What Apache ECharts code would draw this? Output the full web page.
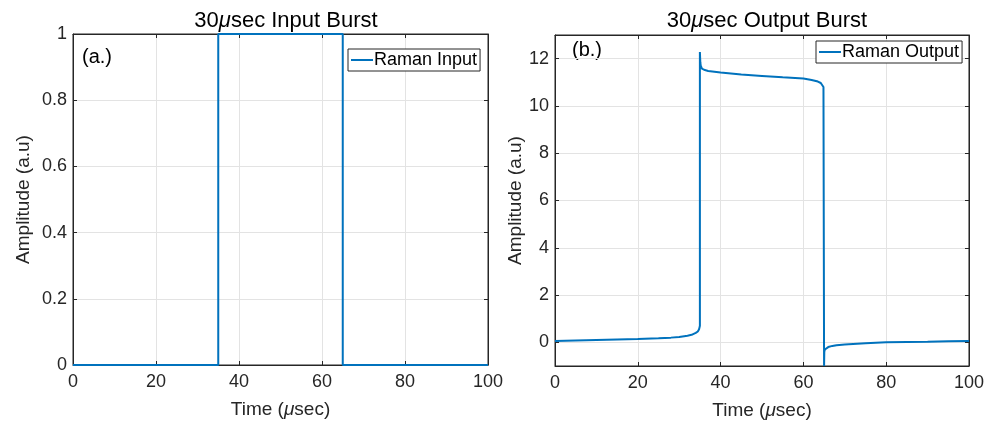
<!DOCTYPE html>
<html>
<head>
<meta charset="utf-8">
<script src="https://cdn.jsdelivr.net/npm/echarts@6/dist/echarts.min.js"></script>
<style>
  html, body { margin: 0; padding: 0; background: #fff; }
  #chart { width: 987px; height: 425px; }
</style>
</head>
<body>
<div id="chart"></div>
<script>
// input burst (square pulse)
const inX = [0, 35, 35, 65, 65, 100];
const inY = [0, 0, 1, 1, 0, 0];

// output burst
const outX = [0, 5, 10, 15, 20, 25, 28, 30, 32, 33, 34, 34.5, 34.8, 35,
  35, 35.1, 35.2, 35.5, 36, 37, 40, 45, 50, 55, 60, 62, 63.5, 64.2, 64.6, 64.85,
  65, 65.05, 65.2, 65.5, 66, 67, 68, 70, 75, 80, 85, 90, 95, 100];
const outY = [0.06, 0.08, 0.1, 0.12, 0.14, 0.17, 0.2, 0.23, 0.28, 0.32, 0.4, 0.46, 0.55, 0.7,
  12.28, 11.85, 11.7, 11.58, 11.53, 11.48, 11.41, 11.33, 11.27, 11.21, 11.16, 11.1, 11.03, 10.97, 10.9, 10.8,
  -1, -0.4, -0.3, -0.25, -0.2, -0.15, -0.12, -0.09, -0.04, 0, 0.02, 0.03, 0.05, 0.06];

const xTicks = [0, 100, 20];
const lineColor = '#0072BD';
const ink = '#262626';
const font = "'Liberation Sans', Arial, sans-serif";

const mu = { mu: { fontStyle: 'italic', fontFamily: font, fontSize: 19 } };

function pairs(xs, ys) {
  return xs.map((x, i) => [x, ys[i]]);
}

function xAxes(gi) {
  const base = {
    type: 'value', gridIndex: gi, min: xTicks[0], max: xTicks[1], interval: xTicks[2],
    axisLine: { show: true, onZero: false, lineStyle: { color: ink, width: 1 } },
    axisTick: { show: true, inside: true, length: 4, lineStyle: { color: ink } }
  };
  return [
    Object.assign({}, base, {
      position: 'bottom',
      axisLabel: { color: ink, fontSize: 18, fontFamily: font, margin: 8 },
      splitLine: { show: true, lineStyle: { color: '#e3e3e3' } },
      name: 'Time ({mu|μ}sec)', nameLocation: 'middle', nameGap: 35,
      nameTextStyle: { color: ink, fontSize: 19, fontFamily: font, rich: mu }
    }),
    Object.assign({}, base, {
      position: 'top', axisLabel: { show: false }, splitLine: { show: false }
    })
  ];
}

function yAxes(gi, opts, gap) {
  const base = Object.assign({
    type: 'value', gridIndex: gi,
    axisLine: { show: true, onZero: false, lineStyle: { color: ink, width: 1 } },
    axisTick: { show: true, inside: true, length: 4, lineStyle: { color: ink } }
  }, opts);
  return [
    Object.assign({}, base, {
      position: 'left',
      axisLabel: { color: ink, fontSize: 18, fontFamily: font, margin: 6, showMinLabel: opts.showEdge, showMaxLabel: opts.showEdge },
      splitLine: { show: true, lineStyle: { color: '#e3e3e3' } },
      name: 'Amplitude (a.u)', nameLocation: 'middle', nameGap: gap,
      nameTextStyle: { color: ink, fontSize: 19, fontFamily: font }
    }),
    Object.assign({}, base, {
      position: 'right', axisLabel: { show: false }, splitLine: { show: false }
    })
  ];
}

const chart = echarts.init(document.getElementById('chart'));

const legendBase = {
  orient: 'vertical', icon: 'rect', itemWidth: 22, itemHeight: 2, itemGap: 0,
  borderColor: ink, borderWidth: 1, backgroundColor: '#fff', borderRadius: 0,
  padding: [2, 3, 2, 3],
  textStyle: { color: '#000', fontSize: 18, fontFamily: font, padding: [0, 0, 0, -4] }
};

const titleStyle = {
  color: '#000', fontSize: 22, fontWeight: 'normal', fontFamily: font,
  rich: { mu: { fontStyle: 'italic', fontSize: 22, fontFamily: font } }
};

chart.setOption({
  animation: false,
  title: [
    { text: '30{mu|μ}sec Input Burst', left: 281, top: 5, textAlign: 'center', textStyle: titleStyle },
    { text: '30{mu|μ}sec Output Burst', left: 762, top: 5, textAlign: 'center', textStyle: titleStyle }
  ],
  grid: [
    { left: 73, top: 34, width: 415, height: 331, show: true, borderColor: ink, borderWidth: 1 },
    { left: 555, top: 35, width: 414, height: 331, show: true, borderColor: ink, borderWidth: 1 }
  ],
  xAxis: xAxes(0).concat(xAxes(1)),
  yAxis: yAxes(0, { min: 0, max: 1, interval: 0.2, showEdge: true }, 40)
    .concat(yAxes(1, { min: -1, max: 13, splitNumber: 7, showEdge: false }, 28)),
  legend: [
    Object.assign({}, legendBase, { data: ['Raman Input'], left: 348, top: 49 }),
    Object.assign({}, legendBase, { data: ['Raman Output'], left: 816, top: 41 })
  ],
  graphic: [
    { type: 'text', left: 82, top: 47, style: { text: '(a.)', fill: '#000', fontSize: 20, fontFamily: font } },
    { type: 'text', left: 572, top: 40, style: { text: '(b.)', fill: '#000', fontSize: 20, fontFamily: font } }
  ],
  series: [
    { name: 'Raman Input', type: 'line', xAxisIndex: 0, yAxisIndex: 0,
      data: pairs(inX, inY), showSymbol: false, lineStyle: { color: lineColor, width: 2 }, itemStyle: { color: lineColor } },
    { name: 'Raman Output', type: 'line', xAxisIndex: 2, yAxisIndex: 2,
      data: pairs(outX, outY), showSymbol: false, lineStyle: { color: lineColor, width: 2 }, itemStyle: { color: lineColor } }
  ]
});
</script>
</body>
</html>
